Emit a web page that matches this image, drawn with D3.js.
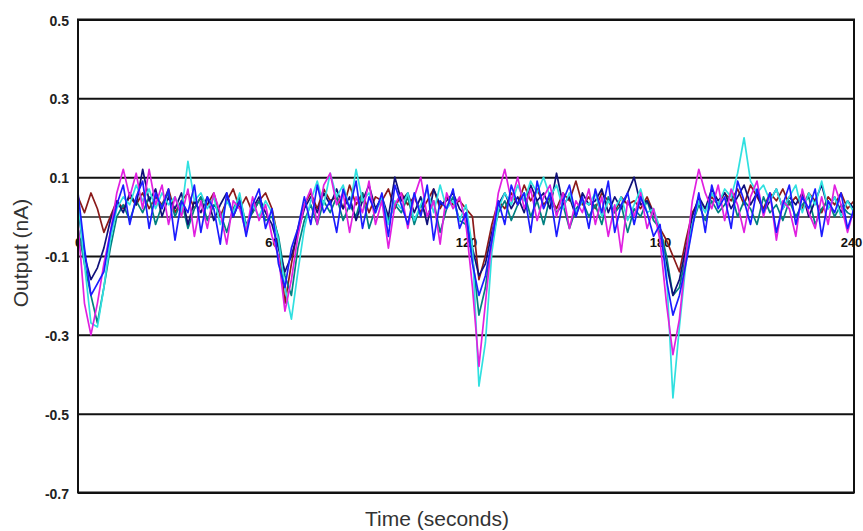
<!DOCTYPE html>
<html>
<head>
<meta charset="utf-8">
<script src="https://cdn.jsdelivr.net/npm/d3@7"></script>
<style>
 body{margin:0;background:#fff}
 svg{display:block}
</style>
</head>
<body>
<div id="chart"></div>
<script>
// sampled every 2 seconds, 0..240
const times = d3.range(0, 241, 2)
const yTicks = [0.5, 0.3, 0.1, -0.1, -0.3, -0.5, -0.7]
const xTicks = [0, 60, 120, 180, 240]

const maroon = [0.05,0.01,0.06,0.02,-0.04,0.00,0.04,0.02,0.05,0.03,
 0.06,0.02,0.05,0.03,0.07,0.01,0.04,0.06,0.02,0.05,
 0.03,0.06,0.00,0.04,0.07,0.02,0.05,0.01,0.04,0.06,
 0.02,-0.06,-0.22,-0.12,-0.03,0.03,0.06,0.02,0.07,0.04,
 0.05,0.02,0.08,0.03,0.06,0.01,0.05,0.04,0.07,0.02,
 0.06,0.03,0.05,0.01,0.04,0.07,0.02,0.05,0.03,0.04,
 0.02,0.00,-0.16,-0.10,-0.02,0.04,0.02,0.06,0.03,0.08,
 0.04,0.07,0.03,0.05,0.02,0.06,0.04,0.09,0.03,0.05,
 0.02,0.06,0.04,0.01,0.05,0.03,0.04,0.02,0.05,0.01,
 -0.03,-0.06,-0.10,-0.14,-0.06,0.01,0.04,0.02,0.05,0.03,
 0.06,0.04,0.07,0.03,0.08,0.05,0.02,0.06,0.04,0.07,
 0.03,0.05,0.02,0.06,0.04,0.01,0.05,0.03,0.06,0.02,
 0.04]
const teal = [-0.03,-0.12,-0.20,-0.27,-0.18,-0.08,0.00,0.03,-0.01,0.04,
 0.01,0.05,-0.02,0.03,0.06,0.00,0.04,-0.03,0.02,0.05,
 -0.01,0.03,0.01,-0.04,0.02,0.05,-0.02,0.01,0.04,-0.01,
 0.00,-0.05,-0.15,-0.20,-0.08,-0.01,0.03,-0.02,0.04,0.01,
 0.05,-0.01,0.03,0.00,0.06,-0.03,0.02,0.04,-0.01,0.03,
 0.01,0.05,-0.02,0.03,0.00,0.04,-0.04,0.02,0.05,-0.01,
 -0.02,-0.10,-0.25,-0.18,-0.06,0.01,0.04,-0.01,0.03,0.06,
 0.00,0.04,-0.02,0.05,0.01,0.03,-0.03,0.02,0.04,0.00,
 0.03,-0.02,0.05,0.01,0.03,-0.04,0.02,0.00,0.04,-0.01,
 -0.03,-0.10,-0.20,-0.18,-0.10,-0.02,0.03,-0.01,0.04,0.01,
 0.03,0.06,0.00,0.04,0.02,-0.02,0.05,0.01,0.03,-0.01,
 0.04,0.00,0.03,0.05,-0.02,0.02,0.04,0.00,0.03,0.01,
 0.00]
const navy = [0.02,-0.10,-0.16,-0.13,-0.08,-0.01,0.04,0.01,0.06,0.03,
 0.12,0.04,0.07,0.00,0.05,0.02,0.06,-0.02,0.04,0.01,
 0.05,-0.01,0.03,0.06,0.00,0.04,-0.03,0.02,0.05,0.01,
 -0.02,-0.08,-0.14,-0.10,-0.04,0.02,0.05,0.01,0.06,0.03,
 0.07,0.02,0.05,-0.01,0.04,0.08,0.02,0.05,0.00,0.10,
 0.04,0.06,0.01,0.05,-0.02,0.07,0.03,0.04,0.06,0.02,
 0.00,-0.08,-0.15,-0.12,-0.04,0.03,0.06,0.02,0.05,0.01,
 0.08,0.04,0.06,0.02,0.11,0.03,0.05,0.00,0.06,0.03,
 0.04,0.07,0.01,0.05,0.02,0.06,0.10,0.03,0.04,0.01,
 -0.04,-0.12,-0.20,-0.16,-0.08,0.00,0.05,0.02,0.07,0.04,
 0.06,0.02,0.05,0.08,0.03,0.06,0.01,0.04,0.07,0.02,
 0.05,0.03,0.06,0.00,0.04,0.08,0.02,0.05,0.01,0.04,
 0.02]
const cyan = [0.04,-0.12,-0.27,-0.28,-0.18,-0.06,0.02,0.05,0.03,0.08,
 0.04,0.07,0.02,0.06,0.03,0.05,0.01,0.14,0.04,0.06,
 0.02,0.05,-0.02,0.04,0.01,0.06,-0.03,0.03,0.00,0.04,
 0.01,-0.06,-0.18,-0.26,-0.14,-0.03,0.04,0.09,0.03,0.11,
 0.05,0.08,0.02,0.12,0.04,0.06,0.01,0.05,-0.02,0.04,
 0.02,0.06,-0.01,0.03,0.07,0.01,0.08,0.02,0.04,-0.01,
 0.03,-0.08,-0.43,-0.32,-0.09,0.02,0.06,0.03,0.08,0.04,
 0.09,0.06,0.10,0.05,0.08,0.02,0.06,0.01,0.04,0.03,
 0.06,0.00,0.04,0.02,0.05,-0.01,0.03,0.07,0.01,0.02,
 -0.03,-0.14,-0.46,-0.28,-0.12,-0.02,0.04,0.01,0.06,0.03,
 0.07,0.05,0.11,0.20,0.09,0.06,0.08,0.04,0.07,0.02,
 0.05,0.08,0.01,0.06,0.03,0.09,0.02,0.05,0.00,0.04,
 0.01]
const magenta = [-0.02,-0.22,-0.30,-0.22,-0.12,-0.04,0.06,0.12,0.05,0.11,
 0.02,0.12,0.03,0.08,-0.02,0.05,0.00,0.07,-0.05,0.04,
 -0.03,0.06,0.01,-0.07,0.04,0.02,-0.04,0.05,-0.01,0.03,
 -0.05,-0.10,-0.24,-0.16,-0.05,0.03,0.07,-0.02,0.08,0.11,
 0.03,0.06,-0.04,0.05,0.01,0.09,-0.02,0.04,-0.08,0.03,
 0.06,-0.03,0.05,0.10,0.00,0.04,-0.07,0.06,0.02,0.05,
 -0.02,-0.18,-0.38,-0.22,-0.06,0.06,0.12,0.04,0.10,0.02,
 0.07,-0.01,0.05,0.08,0.00,0.06,-0.03,0.04,0.01,0.07,
 -0.02,0.05,-0.05,0.03,-0.09,0.04,0.00,0.06,-0.03,0.02,
 -0.06,-0.22,-0.35,-0.26,-0.10,0.04,0.12,0.06,0.02,0.08,
 -0.01,0.07,0.03,-0.04,0.05,0.09,0.00,0.06,-0.06,0.04,
 0.02,-0.05,0.07,0.01,-0.03,0.05,-0.02,0.08,0.03,-0.04,
 0.02]
const blue = [0.06,-0.08,-0.20,-0.17,-0.14,-0.04,0.03,0.08,-0.02,0.05,
 0.09,-0.03,0.06,0.02,0.07,-0.06,0.04,0.01,0.08,-0.04,
 0.05,0.02,-0.07,0.06,0.00,0.04,-0.05,0.03,0.07,-0.03,
 0.02,-0.12,-0.18,-0.08,-0.03,0.05,-0.02,0.08,0.01,0.04,
 -0.04,0.07,0.02,0.09,-0.03,0.05,0.01,0.06,-0.05,0.08,
 0.03,-0.02,0.06,0.00,0.08,-0.06,0.04,0.02,0.07,-0.03,
 0.01,-0.12,-0.20,-0.15,-0.06,0.04,-0.02,0.08,0.03,0.06,
 -0.04,0.09,0.02,0.06,-0.05,0.04,0.08,0.00,0.05,-0.03,
 0.07,0.01,0.09,-0.04,0.03,0.06,-0.02,0.05,0.01,-0.05,
 -0.02,-0.16,-0.25,-0.20,-0.12,-0.03,0.06,-0.04,0.08,0.02,
 0.05,-0.03,0.09,0.04,-0.02,0.07,0.01,0.06,-0.04,0.03,
 0.08,-0.02,0.05,0.02,0.07,-0.05,0.04,0.01,0.06,-0.03,
 0.02]

const series = [
 {values: maroon, color: "#8b1a1a"},
 {values: teal, color: "#008080"},
 {values: navy, color: "#10107a"},
 {values: cyan, color: "#30e0e0"},
 {values: magenta, color: "#e020e0"},
 {values: blue, color: "#1c1cff"}
]

const W = 863, H = 531
const margin = {top: 19.5, right: 9, left: 78, bottom: 38.5}
const iw = W - margin.left - margin.right
const ih = H - margin.top - margin.bottom

const x = d3.scaleLinear().domain([0, 240]).range([0, iw])
const y = d3.scaleLinear().domain([-0.7, 0.5]).range([ih, 0])
const fmt = d => d3.format(".1f")(d).replace("\u2212", "-")

const svg = d3.select("#chart").append("svg").attr("width", W).attr("height", H)
const g = svg.append("g").attr("transform", `translate(${margin.left},${margin.top})`)

// grid + y labels
const yAxis = d3.axisLeft(y).tickValues(yTicks).tickFormat(fmt).tickSize(-iw).tickPadding(9)
const yg = g.append("g").call(yAxis)
yg.select(".domain").remove()
yg.selectAll(".tick line").attr("stroke", "#111").attr("stroke-width", 2)
yg.selectAll(".tick text").attr("fill", "#222").attr("dy", "0.4em")
  .style("font", "bold 14px 'Liberation Sans', Arial, sans-serif")

// zero line + x labels (drawn under the traces)
const xAxis = d3.axisBottom(x).tickValues(xTicks).tickSize(0).tickPadding(21)
const xg = g.append("g").attr("transform", `translate(0,${y(0)})`).call(xAxis)
xg.select(".domain").attr("stroke", "#222").attr("stroke-width", 1.5)
xg.selectAll(".tick text").attr("fill", "#111")
  .style("font", "bold 13px 'Liberation Sans', Arial, sans-serif")
xg.selectAll(".tick text").filter(d => d === 240).attr("dx", -3)

const line = d3.line().x((d, i) => x(times[i])).y(d => y(d))
g.selectAll("path.trace").data(series).enter().append("path")
  .attr("class", "trace")
  .attr("d", d => line(d.values))
  .attr("fill", "none")
  .attr("stroke", d => d.color)
  .attr("stroke-width", 1.7)
  .attr("stroke-linejoin", "round")

// frame
g.append("rect").attr("width", iw).attr("height", ih)
  .attr("fill", "none").attr("stroke", "#111").attr("stroke-width", 2)

svg.append("text").attr("x", 437).attr("y", 526).attr("text-anchor", "middle")
  .attr("fill", "#333").style("font", "21px 'Liberation Sans', Arial, sans-serif")
  .text("Time (seconds)")
svg.append("text").attr("transform", `translate(28,253) rotate(-90)`)
  .attr("text-anchor", "middle").attr("fill", "#333")
  .style("font", "21px 'Liberation Sans', Arial, sans-serif")
  .text("Output (nA)")
</script>
</body>
</html>
